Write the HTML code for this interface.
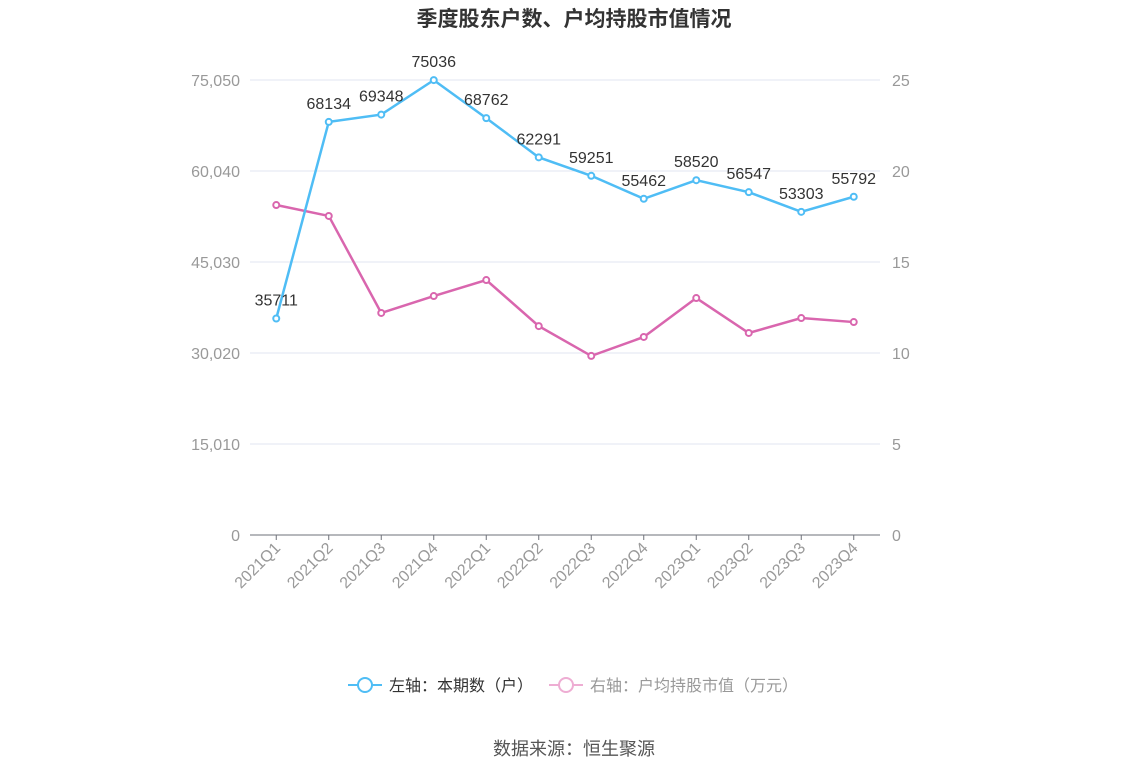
<!DOCTYPE html>
<html><head><meta charset="utf-8"><style>
body{margin:0;background:#fff;font-family:"Liberation Sans","Noto Sans CJK SC",sans-serif}
svg text{font-family:"Liberation Sans","Noto Sans CJK SC",sans-serif}
</style></head><body>
<svg id="c" width="1148" height="776">
<text x="574" y="26" text-anchor="middle" font-size="21" font-weight="bold" fill="#333">季度股东户数、户均持股市值情况</text>
<g id="grid"></g><g id="axes"></g><g id="series"></g>
<g>
<g><line x1="348" y1="685" x2="382" y2="685" stroke="#4fbdf5" stroke-width="2"/><circle cx="365" cy="685" r="7" fill="#fff" stroke="#4fbdf5" stroke-width="2"/><text x="389" y="691" font-size="16" fill="#333">左轴：本期数（户）</text></g>
<g><line x1="549" y1="685" x2="583" y2="685" stroke="#eeadd3" stroke-width="2"/><circle cx="566" cy="685" r="7" fill="#fff" stroke="#eeadd3" stroke-width="2"/><text x="590" y="691" font-size="16" fill="#999">右轴：户均持股市值（万元）</text></g>
</g>
<text x="574" y="755" text-anchor="middle" font-size="18" fill="#555">数据来源：恒生聚源</text>
</svg>
<script>
const categories=["2021Q1","2021Q2","2021Q3","2021Q4","2022Q1","2022Q2","2022Q3","2022Q4","2023Q1","2023Q2","2023Q3","2023Q4"];
const holders=[35711,68134,69348,75036,68762,62291,59251,55462,58520,56547,53303,55792];
const avgValue=[18.13,17.53,12.2,13.13,14.01,11.48,9.84,10.88,13.02,11.1,11.92,11.7];
const leftTicks=[0,15010,30020,45030,60040,75050];
const rightTicks=[0,5,10,15,20,25];
const NS="http://www.w3.org/2000/svg";
const x0=250,x1=880,yB=535,yT=80;
const xs=i=>x0+(x1-x0)/categories.length*(i+0.5);
const yl=v=>yB-(v/75050)*(yB-yT);
const yr=v=>yB-(v/25)*(yB-yT);
function mk(p,t,a){const e=document.createElementNS(NS,t);for(const k in a)e.setAttribute(k,a[k]);p.appendChild(e);return e;}
const grid=document.getElementById('grid'),axes=document.getElementById('axes'),ser=document.getElementById('series');
leftTicks.forEach((t,i)=>{const y=yl(t);
 if(i>0){const g=mk(grid,'line',{x1:x0,x2:x1,y1:y,y2:y,stroke:'#e0e6f1'});}
 const tx=mk(axes,'text',{x:240,y:y+6,'text-anchor':'end','font-size':16,fill:'#999'});tx.textContent=t.toLocaleString('en-US');
 });
rightTicks.forEach(t=>{const tx=mk(axes,'text',{x:892,y:yr(t)+6,'font-size':16,fill:'#999'});tx.textContent=t;
 });
const ax=mk(axes,'line',{x1:x0,x2:x1,y1:yB,y2:yB,stroke:'#6e7079'});
categories.forEach((c,i)=>{const x=xs(i);mk(axes,'line',{x1:x,x2:x,y1:yB,y2:yB+5,stroke:'#6e7079'});
 const tx=mk(axes,'text',{x:x+5,y:yB+14,'text-anchor':'end','font-size':16,fill:'#999',transform:`rotate(-45 ${x+5} ${yB+14})`});tx.textContent=c;
 });
function line(vals,fy,col,name,labels){
 const p=mk(ser,'polyline',{points:vals.map((v,i)=>xs(i)+','+fy(v)).join(' '),fill:'none',stroke:col,'stroke-width':2.5});
 
 vals.forEach((v,i)=>{const c=mk(ser,'circle',{cx:xs(i),cy:fy(v),r:3,fill:'#fff',stroke:col,'stroke-width':2});
  
  if(labels){const t=mk(ser,'text',{x:xs(i),y:fy(v)-13,'text-anchor':'middle','font-size':16,fill:'#333'});t.textContent=v;
   }});
}
line(avgValue,yr,'#d966ae','avg-value',false);
line(holders,yl,'#4fbdf5','holders',true);
</script>
</body></html>
